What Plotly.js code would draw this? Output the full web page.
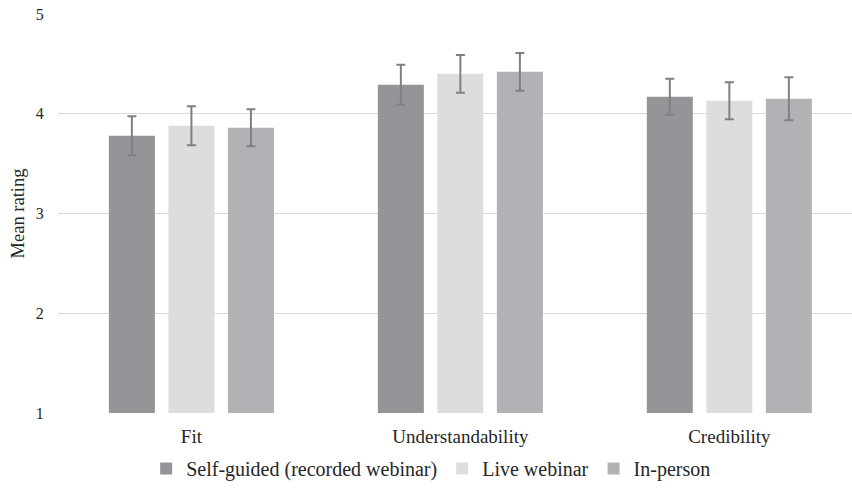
<!DOCTYPE html>
<html><head><meta charset="utf-8">
<script src="https://cdn.plot.ly/plotly-3.0.1.min.js"></script>
<style>html,body{margin:0;padding:0;background:#fff}#c{width:852px;height:488px}</style>
</head><body><div id="c"></div>
<script>
const categories = ["Fit", "Understandability", "Credibility"];
const seriesNames = ["Self-guided (recorded webinar)", "Live webinar", "In-person"];
const selfGuided = [3.78, 4.29, 4.17];
const liveWebinar = [3.88, 4.40, 4.13];
const inPerson = [3.86, 4.42, 4.15];
const selfGuidedErr = [0.195, 0.20, 0.18];
const liveWebinarErr = [0.195, 0.19, 0.185];
const inPersonErr = [0.185, 0.19, 0.215];
const yTicks = [1, 2, 3, 4, 5];

const colors = ["#939598", "#dcdddf", "#b1b2b5"];
const xIdx = categories.map((c, i) => i);
const vals = [selfGuided, liveWebinar, inPerson];
const errs = [selfGuidedErr, liveWebinarErr, inPersonErr];

const traces = seriesNames.map((n, k) => ({
  type: "bar", name: n, x: xIdx, y: vals[k].map(v => v - 1), base: 1,
  marker: {color: colors[k]},
  error_y: {type: "data", array: errs[k], visible: true, color: "#808080", thickness: 2, width: 4.5},
  hoverinfo: "skip"
}));

const font = "'Liberation Serif', 'Times New Roman', serif";
Plotly.newPlot("c", traces, {
  width: 852, height: 488,
  margin: {l: 58, r: 0, t: 14, b: 71},
  barmode: "group", bargap: 0.336, bargroupgap: 0.227,
  paper_bgcolor: "#fff", plot_bgcolor: "#fff",
  font: {family: font, color: "#262626", size: 16},
  xaxis: {tickvals: xIdx, ticktext: categories, range: [-0.496, 2.456],
          showgrid: false, zeroline: false, showline: false,
          ticks: "outside", ticklen: 6, tickcolor: "rgba(0,0,0,0)",
          tickfont: {size: 19, family: font, color: "#262626"}},
  yaxis: {range: [1, 5], tickvals: yTicks, showgrid: true, gridcolor: "#d9d9d9", gridwidth: 1.3,
          zeroline: false, showline: false, ticks: "outside", ticklen: 10, tickcolor: "rgba(0,0,0,0)",
          tickfont: {size: 16, family: font, color: "#262626"},
          title: {text: "Mean rating", font: {size: 18.5, family: font, color: "#262626"}, standoff: 6}},
  legend: {orientation: "h", x: 0.47, xanchor: "center", y: -0.09, yanchor: "top",
           font: {size: 20, family: font, color: "#262626"}, itemwidth: 30},
  showlegend: true
}, {displayModeBar: false, staticPlot: true});
</script></body></html>
